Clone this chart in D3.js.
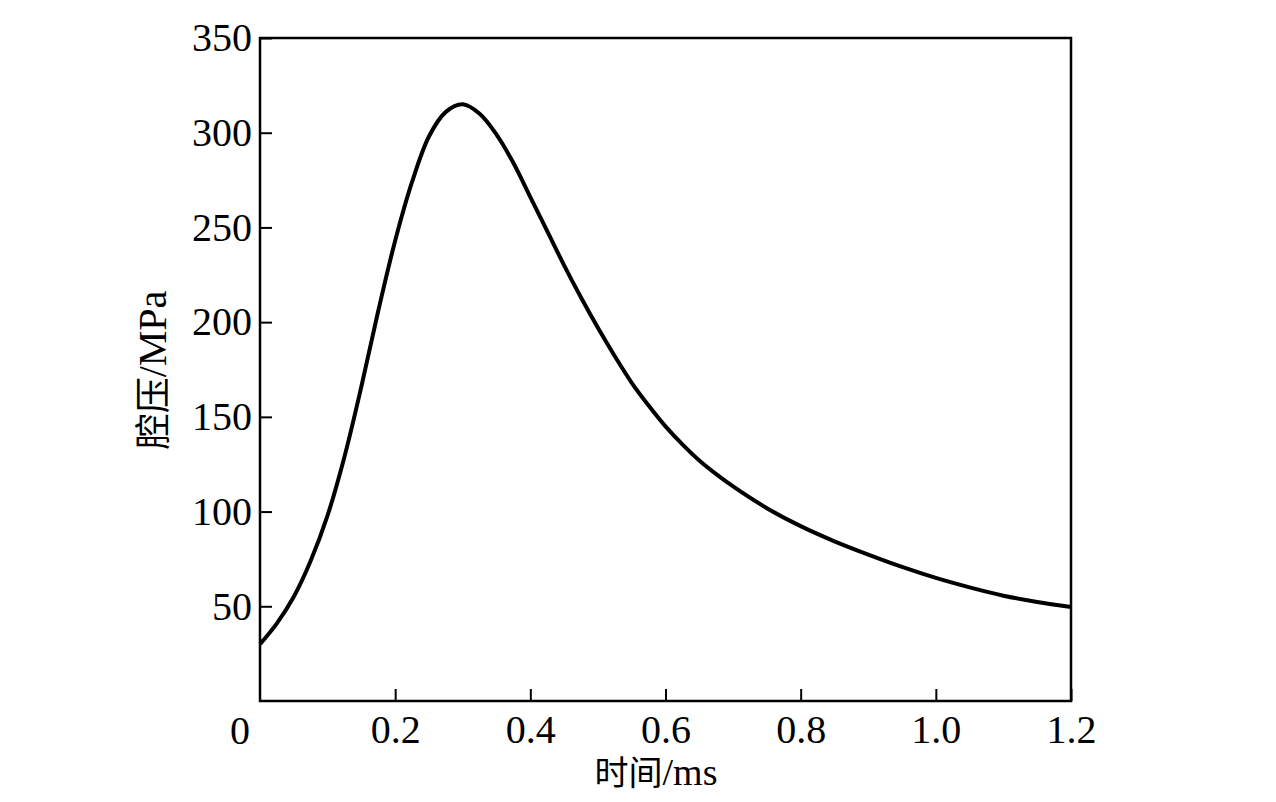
<!DOCTYPE html>
<html>
<head>
<meta charset="utf-8">
<script src="https://cdn.jsdelivr.net/npm/d3@7/dist/d3.min.js"></script>
<style>
  html, body { margin: 0; padding: 0; background: #fff; }
  svg { display: block; }
  text { font-family: "Liberation Serif", "Noto Sans CJK SC", serif; fill: #000; }
</style>
</head>
<body>
<svg id="chart" width="1276" height="802"></svg>
<script>
// ---- data ----
const timeMs = [0, 0.025, 0.05, 0.075, 0.1, 0.125, 0.15, 0.175, 0.2, 0.225, 0.25, 0.275, 0.3,
  0.325, 0.35, 0.375, 0.4, 0.425, 0.45, 0.475, 0.5, 0.525, 0.55, 0.575, 0.6, 0.625, 0.65,
  0.675, 0.7, 0.75, 0.8, 0.85, 0.9, 0.95, 1.0, 1.05, 1.1, 1.15, 1.2];
const pressureMPa = [30, 41, 55, 74, 98, 129, 166, 206, 243, 274, 298, 311, 315,
  310, 299, 284, 266, 248, 230, 213, 197, 182, 168, 156, 145, 135.5, 127,
  119.8, 113.3, 101.8, 92.3, 84.3, 77.3, 70.8, 65, 60, 55.6, 52.3, 49.6];
const xTickValues = [0.2, 0.4, 0.6, 0.8, 1.0, 1.2];
const yTickValues = [50, 100, 150, 200, 250, 300, 350];
const originLabel = "0";
const xTitleCJK = "时间", xTitleLatin = "/ms";
const yTitleCJK = "腔压", yTitleLatin = "/MPa";

// ---- layout ----
const L = 260, R = 1071, T = 38, B = 701;
const svg = d3.select("#chart");
const x = d3.scaleLinear().domain([0, 1.2]).range([L, R]);
const y = d3.scaleLinear().domain([0, 350]).range([B, T]);

// frame
svg.append("rect").attr("x", L).attr("y", T).attr("width", R - L).attr("height", B - T)
  .attr("fill", "none").attr("stroke", "#000").attr("stroke-width", 2.5);

// x axis
const gx = svg.append("g").attr("transform", `translate(0,${B})`)
  .call(d3.axisBottom(x).tickValues(xTickValues).tickSize(-12).tickPadding(14)
    .tickFormat(d3.format(".1f")));
gx.select(".domain").remove();
gx.selectAll(".tick line").attr("stroke", "#000").attr("stroke-width", 2);
gx.selectAll(".tick text").attr("font-size", 40).attr("font-family", "Liberation Serif").attr("fill", "#000");

// y axis
const gy = svg.append("g").attr("transform", `translate(${L},0)`)
  .call(d3.axisLeft(y).tickValues(yTickValues).tickSize(-12).tickPadding(8));
gy.select(".domain").remove();
gy.selectAll(".tick line").attr("stroke", "#000").attr("stroke-width", 2);
gy.selectAll(".tick text").attr("font-size", 40).attr("font-family", "Liberation Serif").attr("fill", "#000");

// origin label
svg.append("text").attr("x", L - 20).attr("y", 744).attr("text-anchor", "middle")
  .attr("font-size", 40).text(originLabel);

// curve
const data = timeMs.map((t, i) => [t, pressureMPa[i]]);
svg.append("path").datum(data)
  .attr("fill", "none").attr("stroke", "#000").attr("stroke-width", 4)
  .attr("stroke-linejoin", "round")
  .attr("d", d3.line().x(d => x(d[0])).y(d => y(d[1])).curve(d3.curveCatmullRom.alpha(0.5)));

// axis titles
const xt = svg.append("text").attr("x", 656).attr("y", 785).attr("text-anchor", "middle");
xt.append("tspan").attr("font-family", "Noto Sans CJK SC").attr("font-size", 34).text(xTitleCJK);
xt.append("tspan").attr("font-family", "Liberation Serif").attr("font-size", 38).text(xTitleLatin);

const yt = svg.append("text").attr("transform", "translate(166,370) rotate(-90)").attr("text-anchor", "middle");
yt.append("tspan").attr("font-family", "Noto Sans CJK SC").attr("font-size", 36).text(yTitleCJK);
yt.append("tspan").attr("font-family", "Liberation Serif").attr("font-size", 40).text(yTitleLatin);
</script>
</body>
</html>
